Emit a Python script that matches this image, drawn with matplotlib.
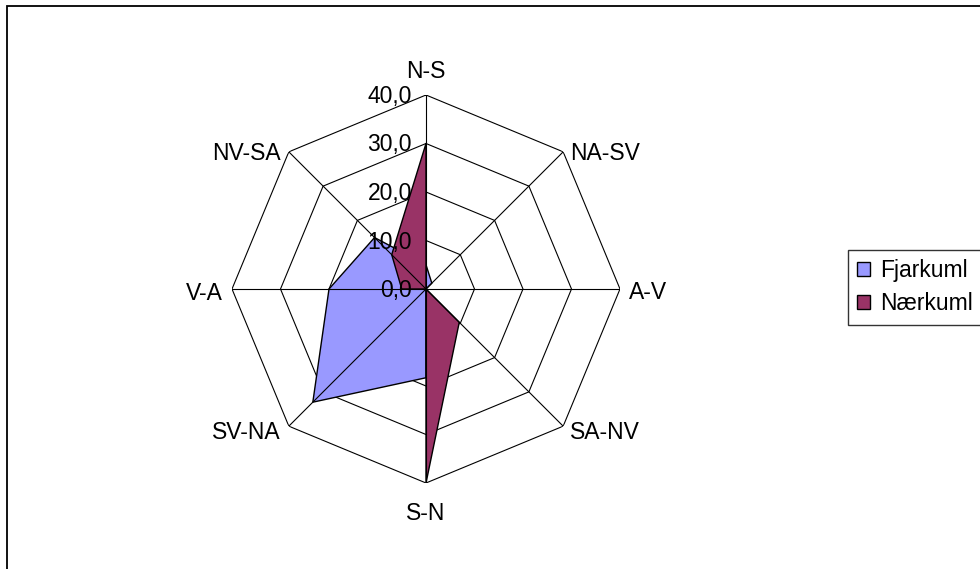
import numpy as np
import matplotlib
matplotlib.use("Agg")
import matplotlib.pyplot as plt
from matplotlib.patches import Patch, Rectangle

categories = ["N-S", "NA-SV", "A-V", "SA-NV", "S-N", "SV-NA", "V-A", "NV-SA"]
fjarkuml = [5.0, 1.7, 0.0, 0.0, 18.3, 33.0, 20.0, 15.0]
naerkuml = [30.0, 0.0, 0.0, 9.7, 40.0, 0.0, 5.0, 10.0]
series_names = ["Fjarkuml", "Nærkuml"]
ring_values = [0, 10, 20, 30, 40]
ring_labels = ["0,0", "10,0", "20,0", "30,0", "40,0"]

plt.rcParams['font.family'] = ['Liberation Sans', 'DejaVu Sans']
FS = 16.5

W, H = 980, 569
fig = plt.figure(figsize=(W / 100, H / 100), dpi=100)
fig.patch.set_facecolor("white")

cx, cy, R = 426, 289, 194
ax = fig.add_axes([(cx - R) / W, (H - cy - R) / H, 2 * R / W, 2 * R / H],
                  projection="polar")
ax.set_theta_zero_location("N")
ax.set_theta_direction(-1)
ax.set_ylim(0, 40)
ax.grid(False)
ax.spines["polar"].set_visible(False)
ax.set_xticks([])
ax.set_yticks([])
ax.patch.set_alpha(0)

n = len(categories)
theta = np.arange(n) * 2 * np.pi / n
theta_closed = np.append(theta, theta[0])

# octagonal rings
for rv in ring_values[1:]:
    ax.plot(theta_closed, [rv] * (n + 1), color="black", lw=0.8, zorder=1)

colors = ["#9999FF", "#993366"]
for vals, col, z in [(fjarkuml, colors[0], 2), (naerkuml, colors[1], 3)]:
    v = np.append(vals, vals[0])
    ax.fill(theta_closed, v, facecolor=col, edgecolor="black", lw=1.0, zorder=z)

# spokes on top
for t in theta:
    ax.plot([t, t], [0, 40], color="black", lw=0.8, zorder=5)

# radial labels
for rv, lbl in zip(ring_values, ring_labels):
    ax.annotate(lbl, xy=(0, rv), xytext=(-14, -8), textcoords="offset pixels",
                ha="right", va="baseline", fontsize=FS, zorder=6,
                annotation_clip=False)

# category labels (offsets in pixels, baseline aligned)
offsets = {
    "N-S": (0, 17, "center"),
    "S-N": (0, -37, "center"),
    "A-V": (9, -10, "left"),
    "V-A": (-9, -11, "right"),
    "NA-SV": (7, -8, "left"),
    "NV-SA": (-8, -8, "right"),
    "SA-NV": (7, -13, "left"),
    "SV-NA": (-8, -13, "right"),
}
for t, cat in zip(theta, categories):
    dx, dy, ha = offsets[cat]
    ax.annotate(cat, xy=(t, 40), xytext=(dx, dy), textcoords="offset pixels",
                ha=ha, va="baseline", fontsize=FS, annotation_clip=False)

# outer frame
fig.add_artist(Rectangle((7 / W, -0.05), 1.1, (H - 6) / H + 0.05,
                         transform=fig.transFigure, fill=False,
                         edgecolor="black", lw=1.3))

handles = [Patch(facecolor=c, edgecolor="black", lw=1.0) for c in colors]
leg = fig.legend(handles, series_names, loc="upper left",
                 bbox_to_anchor=(848 / W, (H - 250) / H),
                 fontsize=FS, frameon=True, fancybox=False, shadow=False,
                 handlelength=0.55, handleheight=0.55, handletextpad=0.45,
                 borderpad=0.4, labelspacing=0.45, borderaxespad=0)
leg.get_frame().set_edgecolor("black")
leg.get_frame().set_linewidth(1.0)

fig.savefig("out.png", dpi=100, facecolor="white")
